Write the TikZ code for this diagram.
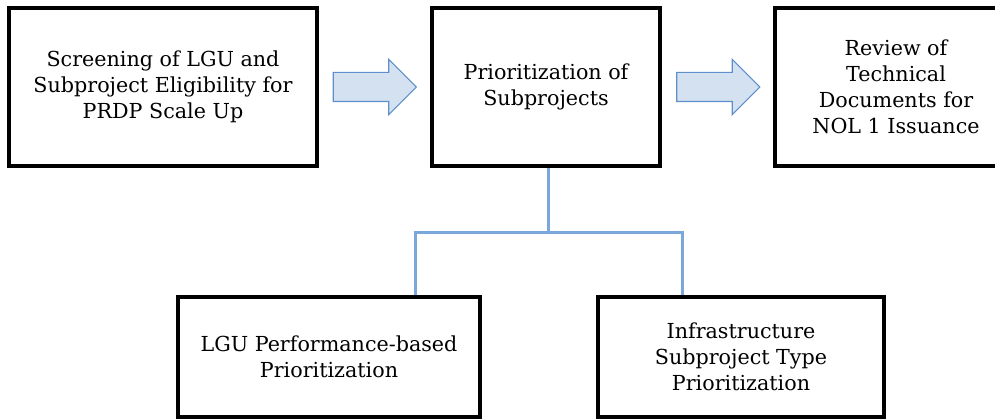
\documentclass[tikz,border=0pt]{standalone}
\usepackage{fontspec}
\setmainfont{DejaVu Serif}
\usetikzlibrary{shapes.arrows}
\definecolor{connblue}{HTML}{7BA7DB}
\definecolor{arrowfill}{HTML}{D3E1F1}
\definecolor{arrowdraw}{HTML}{5F8FCB}
\begin{document}
\begin{tikzpicture}[x=0.75pt,y=-0.75pt,
  box/.style={draw=black, line width=3pt, rectangle, align=center, inner sep=0pt,
    font=\fontsize{15.5}{19.5}\selectfont},
  blockarrow/.style={single arrow, draw=arrowdraw, fill=arrowfill, line width=0.8pt,
    minimum height=62.25pt, inner xsep=0pt, inner ysep=10.5pt,
    single arrow head extend=9.75pt, single arrow tip angle=90},
  conn/.style={draw=connblue, line width=2.25pt}]
\useasboundingbox (0,0) rectangle (995,420);
\clip (0,0) rectangle (995,420);
\node[box, minimum width=231pt, minimum height=118.5pt] (b1) at (163,87)
  {Screening of LGU and\\Subproject Eligibility for\\PRDP Scale Up};
\node[box, minimum width=171pt, minimum height=118.5pt] (b2) at (546,87)
  {Prioritization of\\Subprojects};
\node[box, minimum width=181.5pt, minimum height=118.5pt] (b3) at (896,87)
  {Review of\\Technical\\Documents for\\NOL 1 Issuance};
\node[box, minimum width=226.5pt, minimum height=90pt] (b4) at (329,357)
  {LGU Performance-based\\Prioritization};
\node[box, minimum width=214.5pt, minimum height=90pt] (b5) at (741,357)
  {Infrastructure\\Subproject Type\\Prioritization};
\node[blockarrow] (a1) at (367.5,87) {};
\node[blockarrow] (a2) at (711,87) {};
\coordinate (j) at (548,233);
\coordinate (jl) at (415,233);
\coordinate (jr) at (682,233);
\draw[conn] (b2.south -| j) -- (j);
\draw[conn] (b4.north -| jl) -- (jl) -- (jr) -- (b5.north -| jr);
\end{tikzpicture}
\end{document}
